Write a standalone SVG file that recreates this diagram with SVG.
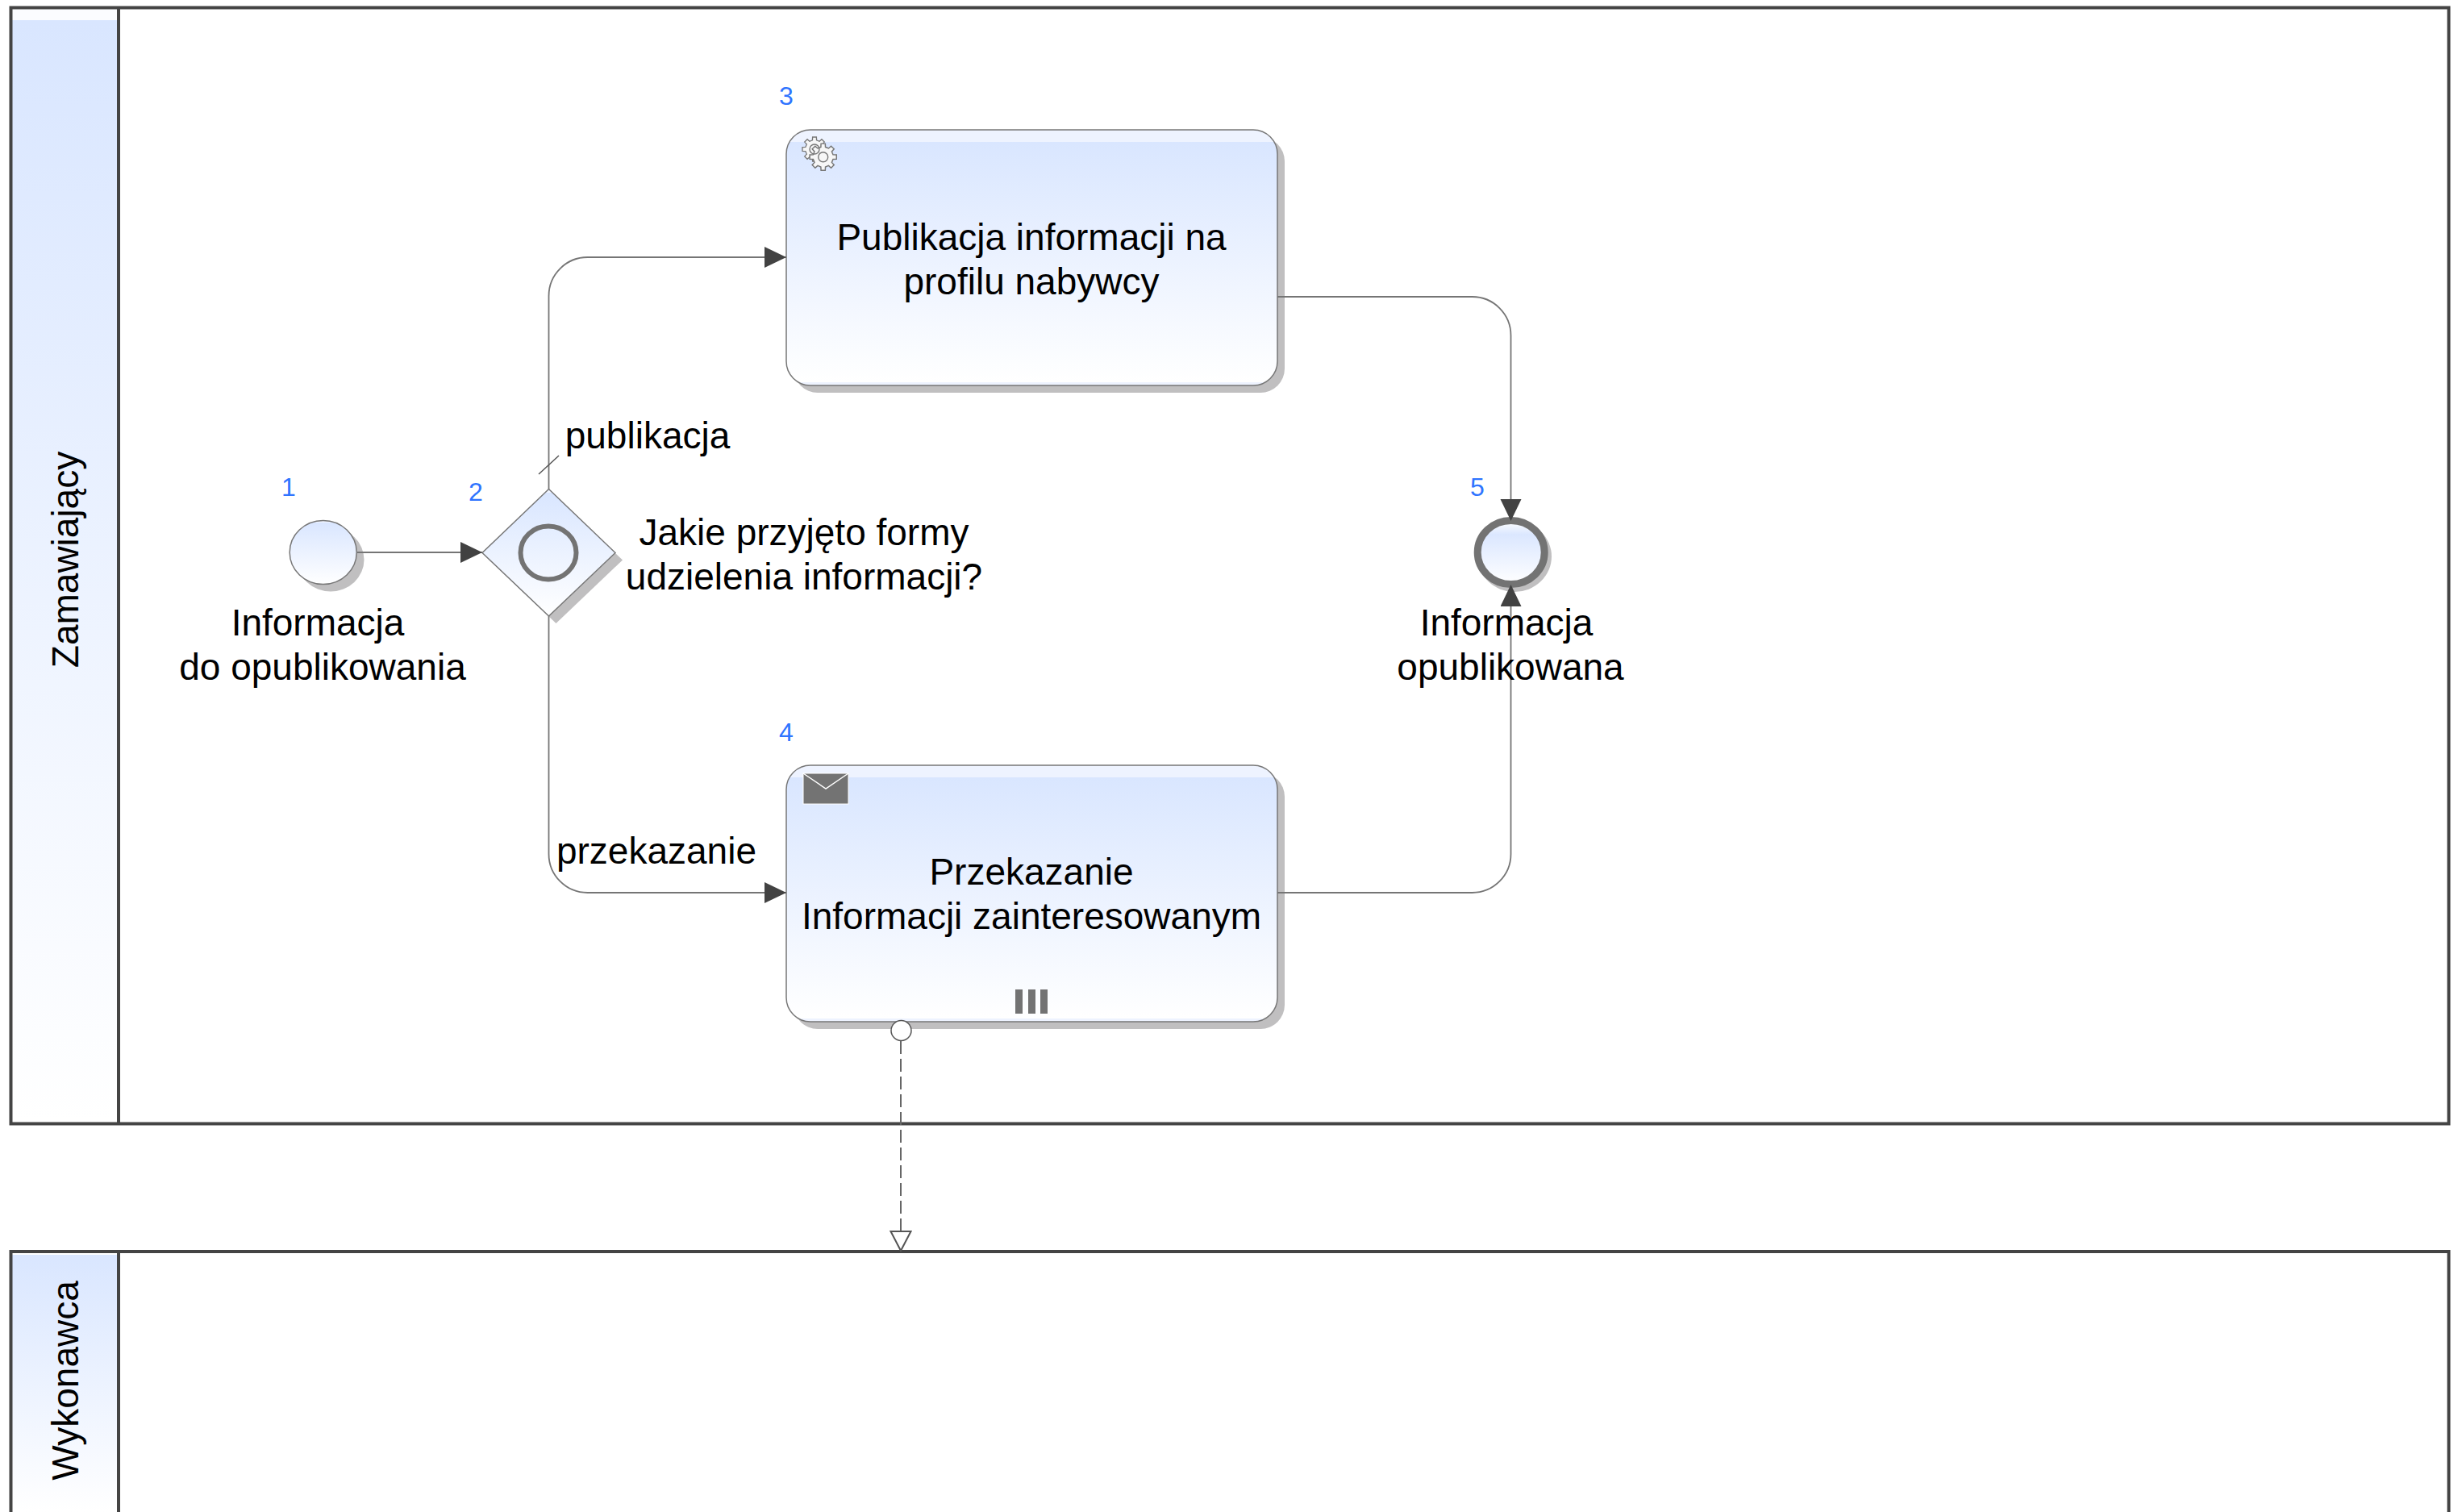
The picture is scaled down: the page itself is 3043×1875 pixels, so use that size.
<svg xmlns="http://www.w3.org/2000/svg" width="3043" height="1875" viewBox="0 0 3043 1875">
<style>
text{font-family:"Liberation Sans",Arial,sans-serif;fill:#000;font-size:46px;text-anchor:middle}
.num{font-size:32px;fill:#2f74ff}
.shadow{fill:#c0bfc0;stroke:none}
.pool{fill:none;stroke:#444;stroke-width:4}
.flow{fill:none;stroke:#757575;stroke-width:1.800}
.edge{fill:url(#gt);stroke:#777;stroke-width:1.500}
.mark{fill:#737373;stroke:none}
.gear{fill:#f7f7f7;stroke:#777;stroke-width:1.400}
</style>
<defs>
<linearGradient id="g" x1="0" y1="0" x2="0" y2="1">
<stop offset="0" stop-color="#eef3ff"/><stop offset="0.03" stop-color="#eef3ff"/><stop offset="0.03" stop-color="#d9e6ff"/><stop offset="1" stop-color="#ffffff"/>
</linearGradient>
<linearGradient id="gt" x1="0" y1="0" x2="0" y2="1">
<stop offset="0" stop-color="#eef3ff"/><stop offset="0.047" stop-color="#eef3ff"/><stop offset="0.047" stop-color="#d9e6ff"/><stop offset="0.987" stop-color="#ffffff"/><stop offset="0.987" stop-color="#eef3ff"/><stop offset="1" stop-color="#eef3ff"/>
</linearGradient>
<linearGradient id="gp1" gradientUnits="userSpaceOnUse" x1="0" y1="25" x2="0" y2="1391">
<stop offset="0" stop-color="#d9e6ff"/><stop offset="1" stop-color="#ffffff"/>
</linearGradient>
<linearGradient id="gp2" gradientUnits="userSpaceOnUse" x1="0" y1="1556" x2="0" y2="1875">
<stop offset="0" stop-color="#d9e6ff"/><stop offset="1" stop-color="#ffffff"/>
</linearGradient>
<linearGradient id="ge" x1="0" y1="0" x2="0" y2="1">
<stop offset="0" stop-color="#ffffff"/><stop offset="0.22" stop-color="#dbe7ff"/><stop offset="1" stop-color="#ffffff"/>
</linearGradient>
<path id="cog" d="M11.700 -2.700L15.800 -2.500L15.800 2.500L11.700 2.700L10.200 6.400L12.900 9.400L9.400 12.900L6.400 10.200L2.700 11.700L2.500 15.800L-2.500 15.800L-2.700 11.700L-6.400 10.200L-9.400 12.900L-12.900 9.400L-10.200 6.400L-11.700 2.700L-15.800 2.500L-15.800 -2.500L-11.700 -2.700L-10.200 -6.400L-12.900 -9.400L-9.400 -12.900L-6.400 -10.200L-2.700 -11.700L-2.500 -15.800L2.500 -15.800L2.700 -11.700L6.400 -10.200L9.400 -12.900L12.900 -9.400L10.200 -6.400Z"/>
<marker id="arr" markerUnits="userSpaceOnUse" markerWidth="28" markerHeight="27" refX="27" refY="13" orient="auto"><path d="M0 0L27 13L0 26Z" fill="#424242"/></marker>
<marker id="open" markerUnits="userSpaceOnUse" markerWidth="30" markerHeight="30" refX="25" refY="14" orient="auto"><path d="M1 1.500L25 14L1 26.500Z" fill="#fff" stroke="#555" stroke-width="2"/></marker>
</defs>
<rect width="3043" height="1875" fill="#fff"/>

<g id="pool-zamawiajacy">
<rect x="14" y="25" width="133" height="1368" fill="url(#gp1)"/>
<rect x="14" y="10" width="133" height="15" fill="#fbfcff"/>
<rect x="13.500" y="9.500" width="3023" height="1384" class="pool"/>
<line x1="147" y1="9.500" x2="147" y2="1393" class="pool"/>
<text transform="translate(97,694) rotate(-90)">Zamawiający</text>
</g>
<g id="pool-wykonawca">
<rect x="14" y="1556" width="133" height="319" fill="url(#gp2)"/>
<path d="M13.500 1875V1552H3036.500V1875" class="pool"/>
<line x1="147" y1="1552" x2="147" y2="1875" class="pool"/>
<text transform="translate(97,1712) rotate(-90)">Wykonawca</text>
</g>

<g id="n1">
<ellipse cx="410" cy="694" rx="41.500" ry="39.500" class="shadow"/>
<ellipse cx="400.700" cy="685" rx="41.500" ry="39.500" fill="url(#g)" stroke="#777" stroke-width="1.500"/>
<text class="num" x="358" y="615">1</text>
<text x="394" y="788">Informacja</text>
<text x="400" y="843">do opublikowania</text>
</g>
<g id="n2">
<path d="M772 694.500L689.500 773L607 694.500L689.500 616Z" class="shadow"/>
<path d="M680.500 606.500L763 685.500L680.500 764L598 685.500Z" fill="url(#g)" stroke="#777" stroke-width="1.500"/>
<ellipse cx="680" cy="685.500" rx="34.500" ry="33" fill="none" stroke="#737373" stroke-width="6"/>
<text class="num" x="590" y="621">2</text>
<text x="997" y="676">Jakie przyjęto formy</text>
<text x="997" y="731">udzielenia informacji?</text>
</g>
<g id="n3">
<rect x="984" y="170" width="609" height="317" rx="30" class="shadow"/>
<rect x="975" y="161" width="609" height="317" rx="30" class="edge"/>
<use href="#cog" transform="translate(1010,185) scale(.95)" class="gear"/>
<use href="#cog" transform="translate(1020.700,194.700) scale(1.050)" class="gear"/>
<circle cx="1010" cy="185" r="6" fill="none" stroke="#777" stroke-width="1.400"/>
<circle cx="1020.700" cy="194.700" r="6" fill="#f7f7f7" stroke="#777" stroke-width="1.400"/>
<text class="num" x="975" y="130">3</text>
<text x="1279" y="310">Publikacja informacji na</text>
<text x="1279" y="365">profilu nabywcy</text>
</g>
<g id="n4">
<rect x="984" y="958" width="609" height="318" rx="30" class="shadow"/>
<rect x="975" y="949" width="609" height="318" rx="30" class="edge"/>
<rect x="996" y="959" width="56" height="38" fill="#737373" stroke="#fff" stroke-width="1"/>
<path d="M996 959L1024 978L1052 959" fill="none" stroke="#fff" stroke-width="1.500"/>
<rect x="1259" y="1227" width="9" height="30" class="mark"/>
<rect x="1275" y="1227" width="9" height="30" class="mark"/>
<rect x="1290" y="1227" width="9" height="30" class="mark"/>
<circle cx="1117.500" cy="1278" r="12.500" fill="#fff" stroke="#555" stroke-width="1.500"/>
<text class="num" x="975" y="919">4</text>
<text x="1279" y="1097">Przekazanie</text>
<text x="1279" y="1152">Informacji zainteresowanym</text>
</g>
<g id="n5">
<ellipse cx="1878" cy="690" rx="46" ry="44" class="shadow"/>
<ellipse cx="1873.700" cy="685" rx="41.500" ry="39.500" fill="url(#ge)" stroke="#737373" stroke-width="9"/>
<text class="num" x="1832" y="615">5</text>
</g>

<g id="connectors">
<path d="M443 685H598" class="flow" marker-end="url(#arr)"/>
<path d="M680.500 607V367A48 48 0 0 1 728.500 319H975" class="flow" marker-end="url(#arr)"/>
<line x1="668" y1="588" x2="693" y2="565" stroke="#555" stroke-width="1.500"/>
<path d="M680.500 764V1059A48 48 0 0 0 728.500 1107H975" class="flow" marker-end="url(#arr)"/>
<path d="M1584 368H1825.500A48 48 0 0 1 1873.500 416V646" class="flow" marker-end="url(#arr)"/>
<path d="M1584 1107H1825.500A48 48 0 0 0 1873.500 1059V725" class="flow" marker-end="url(#arr)"/>
<path d="M1117 1291V1551" fill="none" stroke="#666" stroke-width="2" stroke-dasharray="16 6" marker-end="url(#open)"/>
</g>

<g id="labels">
<text x="803" y="556">publikacja</text>
<text x="814" y="1071">przekazanie</text>
<text x="1868" y="788">Informacja</text>
<text x="1873" y="843">opublikowana</text>
</g>
</svg>
